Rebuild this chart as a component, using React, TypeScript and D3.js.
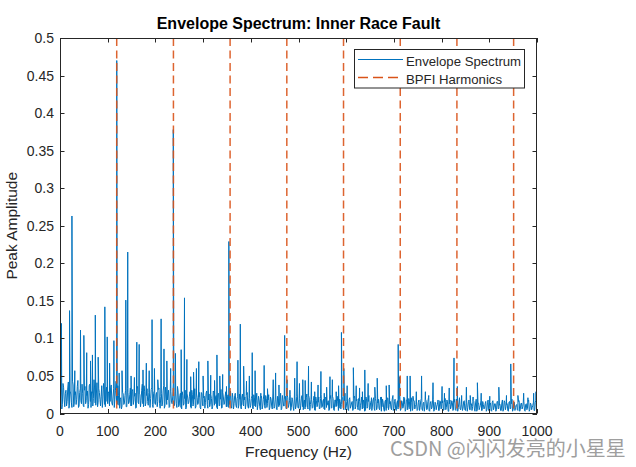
import React from "react";
import * as d3 from "d3";

// ---------- data ----------
const noiseStep = 2.5; // Hz between noise-floor samples
// noise floor samples at 0, 2.5, 5, ... Hz
const noiseAmp = [
  0.004, 0.028, 0.012, 0.035, 0.009, 0.031, 0.016, 0.042, 0.011, 0.026, 0.008, 0.038, 0.014, 0.029, 0.019, 0.044, 0.010, 0.033, 0.013, 0.027,
  0.009, 0.036, 0.017, 0.030, 0.012, 0.039, 0.008, 0.027, 0.020, 0.034, 0.011, 0.041, 0.015, 0.028, 0.010, 0.037, 0.018, 0.032, 0.009, 0.035,
  0.013, 0.029, 0.016, 0.038, 0.011, 0.033, 0.019, 0.043, 0.012, 0.024, 0.007, 0.021, 0.010, 0.026, 0.014, 0.031, 0.009, 0.028, 0.015, 0.034,
  0.010, 0.032, 0.018, 0.027, 0.008, 0.036, 0.013, 0.025, 0.017, 0.039, 0.009, 0.029, 0.014, 0.033, 0.011, 0.026, 0.020, 0.035, 0.008, 0.030,
  0.012, 0.028, 0.016, 0.034, 0.007, 0.027, 0.014, 0.037, 0.010, 0.025, 0.018, 0.031, 0.009, 0.029, 0.013, 0.040, 0.011, 0.026, 0.008, 0.030,
  0.011, 0.027, 0.006, 0.024, 0.013, 0.031, 0.008, 0.022, 0.015, 0.029, 0.007, 0.025, 0.012, 0.033, 0.009, 0.021, 0.014, 0.028, 0.006, 0.026,
  0.010, 0.023, 0.015, 0.030, 0.007, 0.026, 0.012, 0.020, 0.009, 0.028, 0.013, 0.024, 0.006, 0.027, 0.011, 0.032, 0.008, 0.022, 0.014, 0.029,
  0.009, 0.025, 0.012, 0.030, 0.007, 0.021, 0.013, 0.027, 0.008, 0.023, 0.011, 0.019, 0.006, 0.026, 0.010, 0.022, 0.014, 0.028, 0.007, 0.020,
  0.011, 0.024, 0.006, 0.021, 0.009, 0.027, 0.012, 0.018, 0.005, 0.023, 0.010, 0.026, 0.007, 0.020, 0.013, 0.025, 0.008, 0.019, 0.006, 0.022,
  0.009, 0.024, 0.005, 0.020, 0.011, 0.027, 0.007, 0.018, 0.010, 0.023, 0.006, 0.021, 0.012, 0.025, 0.008, 0.019, 0.004, 0.022, 0.010, 0.026,
  0.007, 0.020, 0.011, 0.024, 0.005, 0.018, 0.009, 0.026, 0.006, 0.021, 0.012, 0.019, 0.008, 0.023, 0.004, 0.017, 0.010, 0.022, 0.007, 0.025,
  0.009, 0.019, 0.005, 0.022, 0.011, 0.017, 0.006, 0.024, 0.008, 0.020, 0.004, 0.018, 0.010, 0.023, 0.007, 0.016, 0.012, 0.021, 0.005, 0.027,
  0.008, 0.018, 0.004, 0.021, 0.010, 0.016, 0.006, 0.023, 0.009, 0.019, 0.005, 0.017, 0.011, 0.022, 0.007, 0.015, 0.004, 0.020, 0.009, 0.024,
  0.006, 0.017, 0.010, 0.021, 0.004, 0.016, 0.008, 0.019, 0.005, 0.022, 0.009, 0.015, 0.003, 0.018, 0.007, 0.020, 0.010, 0.016, 0.005, 0.023,
  0.007, 0.019, 0.004, 0.017, 0.009, 0.022, 0.006, 0.015, 0.010, 0.020, 0.005, 0.018, 0.008, 0.016, 0.003, 0.021, 0.007, 0.017, 0.009, 0.014,
  0.005, 0.018, 0.008, 0.020, 0.004, 0.015, 0.009, 0.017, 0.006, 0.021, 0.003, 0.016, 0.008, 0.019, 0.005, 0.014, 0.010, 0.018, 0.004, 0.016,
  0.007, 0.017, 0.005, 0.020, 0.008, 0.014, 0.003, 0.018, 0.009, 0.015, 0.006, 0.019, 0.004, 0.016, 0.008, 0.021, 0.005, 0.013, 0.007, 0.017,
  0.004, 0.015, 0.008, 0.018, 0.005, 0.013, 0.009, 0.016, 0.003, 0.019, 0.006, 0.014, 0.008, 0.017, 0.004, 0.012, 0.007, 0.016, 0.005, 0.018,
  0.006, 0.014, 0.003, 0.017, 0.008, 0.013, 0.005, 0.016, 0.007, 0.012, 0.004, 0.018, 0.006, 0.015, 0.009, 0.013, 0.003, 0.016, 0.007, 0.019,
  0.005, 0.015, 0.008, 0.012, 0.004, 0.017, 0.006, 0.014, 0.009, 0.016, 0.003, 0.013, 0.007, 0.018, 0.005, 0.012, 0.008, 0.015, 0.004, 0.017,
  0.012,
];
// noise floor samples half-way between, at 1.25, 3.75, 6.25, ... Hz
const noiseMidAmp = [
  0.022, 0.006, 0.040, 0.018, 0.027, 0.010, 0.034, 0.007, 0.030, 0.015, 0.043, 0.009, 0.025, 0.012, 0.036, 0.008, 0.028, 0.017, 0.039, 0.011,
  0.031, 0.013, 0.024, 0.007, 0.037, 0.016, 0.029, 0.010, 0.045, 0.014, 0.026, 0.009, 0.033, 0.019, 0.023, 0.008, 0.040, 0.012, 0.030, 0.016,
  0.027, 0.010, 0.035, 0.014, 0.022, 0.008, 0.031, 0.016, 0.037, 0.011, 0.019, 0.006, 0.028, 0.012, 0.024, 0.009, 0.033, 0.013, 0.025, 0.010,
  0.029, 0.012, 0.023, 0.007, 0.034, 0.015, 0.026, 0.009, 0.031, 0.013, 0.037, 0.010, 0.024, 0.016, 0.028, 0.008, 0.032, 0.012, 0.027, 0.014,
  0.025, 0.009, 0.032, 0.013, 0.023, 0.010, 0.030, 0.007, 0.035, 0.012, 0.026, 0.008, 0.033, 0.015, 0.022, 0.010, 0.029, 0.013, 0.036, 0.009,
  0.024, 0.008, 0.029, 0.011, 0.020, 0.006, 0.027, 0.013, 0.023, 0.009, 0.031, 0.010, 0.019, 0.007, 0.026, 0.012, 0.022, 0.008, 0.028, 0.011,
  0.021, 0.007, 0.027, 0.012, 0.018, 0.009, 0.025, 0.006, 0.030, 0.011, 0.022, 0.008, 0.026, 0.010, 0.019, 0.007, 0.028, 0.012, 0.023, 0.009,
  0.023, 0.008, 0.019, 0.010, 0.027, 0.006, 0.024, 0.011, 0.020, 0.007, 0.026, 0.009, 0.022, 0.012, 0.018, 0.006, 0.025, 0.010, 0.021, 0.008,
  0.020, 0.007, 0.025, 0.010, 0.017, 0.005, 0.023, 0.009, 0.021, 0.006, 0.019, 0.011, 0.024, 0.008, 0.018, 0.005, 0.022, 0.010, 0.026, 0.007,
  0.019, 0.006, 0.023, 0.009, 0.016, 0.005, 0.024, 0.010, 0.020, 0.007, 0.025, 0.008, 0.017, 0.004, 0.021, 0.009, 0.018, 0.006, 0.023, 0.008,
  0.018, 0.005, 0.022, 0.009, 0.016, 0.006, 0.021, 0.008, 0.024, 0.004, 0.019, 0.007, 0.017, 0.005, 0.022, 0.009, 0.015, 0.006, 0.020, 0.008,
  0.017, 0.006, 0.021, 0.008, 0.015, 0.004, 0.020, 0.007, 0.023, 0.005, 0.018, 0.009, 0.016, 0.004, 0.019, 0.006, 0.022, 0.008, 0.017, 0.005,
  0.016, 0.005, 0.019, 0.007, 0.014, 0.004, 0.021, 0.006, 0.017, 0.008, 0.020, 0.004, 0.015, 0.006, 0.018, 0.003, 0.022, 0.007, 0.016, 0.005,
  0.015, 0.004, 0.018, 0.006, 0.020, 0.005, 0.014, 0.007, 0.017, 0.003, 0.019, 0.006, 0.016, 0.004, 0.021, 0.005, 0.013, 0.007, 0.018, 0.004,
  0.016, 0.005, 0.014, 0.006, 0.019, 0.004, 0.017, 0.007, 0.013, 0.003, 0.018, 0.005, 0.020, 0.006, 0.015, 0.004, 0.017, 0.006, 0.012, 0.004,
  0.015, 0.004, 0.017, 0.006, 0.013, 0.003, 0.019, 0.005, 0.016, 0.004, 0.014, 0.006, 0.018, 0.003, 0.015, 0.005, 0.012, 0.004, 0.017, 0.006,
  0.014, 0.004, 0.016, 0.005, 0.018, 0.003, 0.013, 0.006, 0.017, 0.004, 0.015, 0.005, 0.019, 0.003, 0.014, 0.006, 0.012, 0.004, 0.016, 0.005,
  0.013, 0.003, 0.016, 0.005, 0.012, 0.004, 0.017, 0.006, 0.014, 0.003, 0.015, 0.005, 0.011, 0.004, 0.016, 0.006, 0.013, 0.003, 0.015, 0.004,
  0.012, 0.004, 0.015, 0.005, 0.013, 0.003, 0.016, 0.006, 0.011, 0.004, 0.014, 0.003, 0.017, 0.005, 0.012, 0.004, 0.015, 0.006, 0.013, 0.003,
  0.014, 0.004, 0.011, 0.005, 0.016, 0.003, 0.013, 0.006, 0.015, 0.004, 0.012, 0.005, 0.016, 0.003, 0.014, 0.005, 0.011, 0.004, 0.015, 0.006,
];

const peakFreq = [
  3, 20, 25, 31, 43, 50, 56, 64, 68, 74, 80, 94, 99, 104, 113, 119, 124, 130, 138, 142,
  149, 156, 161, 166, 174, 181, 187, 193, 198, 205, 212, 218, 224, 232, 237.5, 242, 254, 261, 266, 274,
  280, 286, 291, 300, 310, 316, 324, 329, 335, 341, 349, 354, 373, 378, 385, 391, 397, 403, 409, 421,
  428, 435, 447, 452, 459, 471, 476, 482, 492, 497, 502, 509, 514, 521, 527, 534, 541, 547, 554, 559,
  566, 571, 579, 584, 590, 595, 602, 615, 621, 628, 634, 639, 646, 653, 660, 665, 674, 684, 690, 698,
  709, 712, 721, 728, 734, 740, 747, 758, 766, 773, 782, 801, 806, 816, 826, 833, 842, 852, 860, 866,
  875, 883, 901, 920, 936, 945, 960, 972, 981, 993, 998,
];
const peakAmp = [
  0.12, 0.137, 0.263, 0.057, 0.111, 0.104, 0.081, 0.07, 0.078, 0.131, 0.075, 0.142, 0.102, 0.067, 0.097, 0.47, 0.054, 0.057, 0.151, 0.215,
  0.05, 0.048, 0.095, 0.092, 0.058, 0.067, 0.057, 0.125, 0.06, 0.045, 0.126, 0.086, 0.07, 0.06, 0.378, 0.08, 0.085, 0.154, 0.072, 0.049,
  0.055, 0.06, 0.069, 0.05, 0.07, 0.051, 0.044, 0.078, 0.05, 0.052, 0.036, 0.229, 0.071, 0.119, 0.063, 0.043, 0.05, 0.081, 0.057, 0.027,
  0.064, 0.033, 0.045, 0.054, 0.038, 0.104, 0.045, 0.031, 0.047, 0.069, 0.04, 0.045, 0.044, 0.063, 0.042, 0.029, 0.038, 0.056, 0.027, 0.035,
  0.049, 0.045, 0.029, 0.037, 0.108, 0.06, 0.037, 0.061, 0.037, 0.034, 0.029, 0.058, 0.04, 0.021, 0.035, 0.047, 0.022, 0.037, 0.038, 0.024,
  0.092, 0.049, 0.022, 0.05, 0.05, 0.023, 0.029, 0.05, 0.029, 0.024, 0.041, 0.036, 0.027, 0.034, 0.074, 0.036, 0.024, 0.035, 0.024, 0.022,
  0.041, 0.027, 0.023, 0.035, 0.024, 0.066, 0.024, 0.027, 0.021, 0.027, 0.029,
];

const bpfiHarmonics = [118.9, 237.8, 356.6, 475.5, 594.4, 713.3, 832.1, 951.0];

const xTicks = [0, 100, 200, 300, 400, 500, 600, 700, 800, 900, 1000];
const yTicks = [0, 0.05, 0.1, 0.15, 0.2, 0.25, 0.3, 0.35, 0.4, 0.45, 0.5];
const yTickLabels = ["0", "0.05", "0.1", "0.15", "0.2", "0.25", "0.3", "0.35", "0.4", "0.45", "0.5"];

// ---------- chart ----------
export default function App() {
  const W = 636, H = 467;
  const L = 60, R = 537, T = 38, B = 413.5;
  const axisColor = "#262626";
  const font = "'Liberation Sans', Arial, Helvetica, sans-serif";

  const x = d3.scaleLinear().domain([0, 1000]).range([L, R]);
  const y = d3.scaleLinear().domain([0, 0.5]).range([B, T]);

  const pts: [number, number][] = noiseAmp.map((a, i) => [i * noiseStep, a] as [number, number]);
  noiseMidAmp.forEach((a, i) => pts.push([(i + 0.5) * noiseStep, a]));
  peakFreq.forEach((f, i) => pts.push([f, peakAmp[i]]));
  pts.sort((a, b) => a[0] - b[0]);
  const line = d3.line<[number, number]>().x((d) => x(d[0])).y((d) => y(d[1]));
  const pathD = line(pts) || "";

  const tickLen = 4.5;

  return (
    <svg width={W} height={H} style={{ position: "absolute", left: 0, top: 0, background: "#fff" }}
      xmlns="http://www.w3.org/2000/svg">
      <rect x={0} y={0} width={W} height={H} fill="#fff" />
      <defs>
        <clipPath id="plotclip">
          <rect x={L} y={T} width={R - L} height={B - T} />
        </clipPath>
      </defs>

      {/* spectrum */}
      <g clipPath="url(#plotclip)">
        <path d={pathD} fill="none" stroke="#0072BD" strokeWidth={1} strokeLinejoin="miter" />
        {bpfiHarmonics.map((f, i) => (
          <line key={i} x1={x(f)} x2={x(f)} y1={T} y2={B} stroke="#D95319" strokeWidth={1.5}
            strokeDasharray="8,4.5" strokeOpacity={0.9} />
        ))}
      </g>

      {/* axes box */}
      <rect x={L + 0.5} y={T + 0.5} width={R - L - 1} height={B - T - 0.5} fill="none" stroke={axisColor} strokeWidth={1} />

      {/* x ticks */}
      {xTicks.map((t) => {
        const px = Math.round(x(t)) + 0.5;
        return (
          <g key={"x" + t}>
            <line x1={px} x2={px} y1={B} y2={B - tickLen} stroke={axisColor} />
            <line x1={px} x2={px} y1={T} y2={T + tickLen} stroke={axisColor} />
            <text x={x(t)} y={436} textAnchor="middle" fontFamily={font} fontSize={14} fill={axisColor}>{t}</text>
          </g>
        );
      })}

      {/* y ticks */}
      {yTicks.map((t, i) => {
        const py = Math.round(y(t)) + 0.5;
        return (
          <g key={"y" + i}>
            <line x1={L} x2={L + tickLen} y1={py} y2={py} stroke={axisColor} />
            <line x1={R} x2={R - tickLen} y1={py} y2={py} stroke={axisColor} />
            <text x={54} y={y(t) + 5} textAnchor="end" fontFamily={font} fontSize={14} fill={axisColor}>{yTickLabels[i]}</text>
          </g>
        );
      })}

      {/* title and labels */}
      <text x={(L + R) / 2} y={29} textAnchor="middle" fontFamily={font} fontSize={16} fontWeight="bold" fill="#000">
        Envelope Spectrum: Inner Race Fault
      </text>
      <text x={(L + R) / 2} y={457} textAnchor="middle" fontFamily={font} fontSize={15.5} fill={axisColor}>
        Frequency (Hz)
      </text>
      <text transform={`translate(17,${(T + B) / 2}) rotate(-90)`} textAnchor="middle" fontFamily={font} fontSize={15.5} fill={axisColor}>
        Peak Amplitude
      </text>

      {/* legend */}
      <g>
        <rect x={354.5} y={49.5} width={170} height={38.5} fill="#fff" stroke={axisColor} strokeWidth={1} />
        <line x1={358} x2={403} y1={59.5} y2={59.5} stroke="#0072BD" strokeWidth={1} />
        <text x={406} y={65.5} fontFamily={font} fontSize={13.2} fill={axisColor}>Envelope Spectrum</text>
        <line x1={358} x2={403} y1={77.5} y2={77.5} stroke="#D95319" strokeWidth={1.5} strokeDasharray="10,5" />
        <text x={406} y={83.5} fontFamily={font} fontSize={13.2} fill={axisColor}>BPFI Harmonics</text>
      </g>

      {/* watermark */}
      <text x={390} y={456} fontFamily="'Noto Sans CJK SC', 'Noto Sans', sans-serif" fontSize={20} fill="#9e9e9e"
        stroke="#ffffff" strokeWidth={0.5} paintOrder="stroke">
        CSDN @闪闪发亮的小星星
      </text>
    </svg>
  );
}
